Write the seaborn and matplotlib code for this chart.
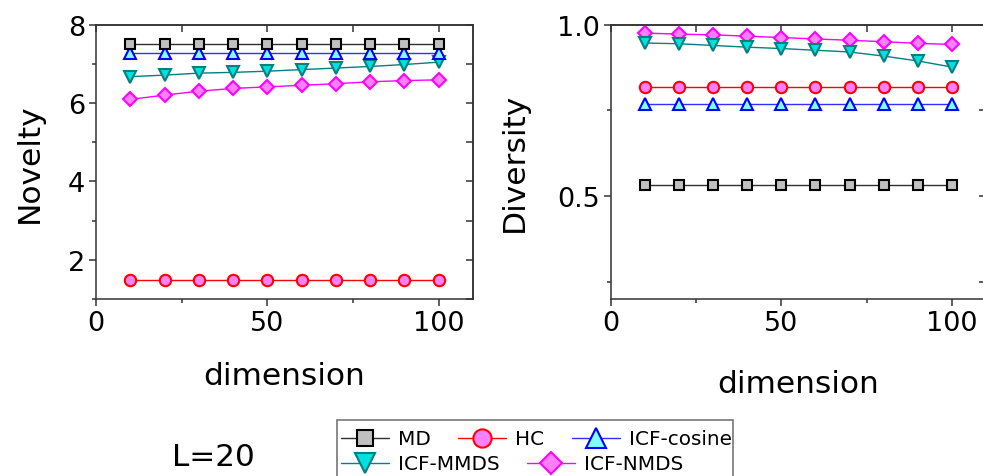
import numpy as np
import pandas as pd
import matplotlib
matplotlib.use("Agg")
import matplotlib.pyplot as plt
from matplotlib.patches import Rectangle
from matplotlib.ticker import MultipleLocator
import seaborn as sns

# data
dims = [10, 20, 30, 40, 50, 60, 70, 80, 90, 100]
methods = ['MD', 'HC', 'ICF-cosine', 'ICF-MMDS', 'ICF-NMDS']

novelty_md = [7.50] * 10
novelty_hc = [1.49] * 10
novelty_cos = [7.27] * 10
novelty_mmds = [6.67, 6.71, 6.76, 6.78, 6.81, 6.85, 6.89, 6.93, 6.98, 7.04]
novelty_nmds = [6.09, 6.20, 6.30, 6.37, 6.41, 6.45, 6.49, 6.54, 6.57, 6.59]

diversity_md = [0.533] * 10
diversity_hc = [0.818] * 10
diversity_cos = [0.767] * 10
diversity_mmds = [0.946, 0.944, 0.939, 0.934, 0.930, 0.925, 0.920, 0.908, 0.894, 0.876]
diversity_nmds = [0.975, 0.972, 0.970, 0.966, 0.962, 0.958, 0.954, 0.950, 0.945, 0.942]

novelty = {'MD': novelty_md, 'HC': novelty_hc, 'ICF-cosine': novelty_cos,
           'ICF-MMDS': novelty_mmds, 'ICF-NMDS': novelty_nmds}
diversity = {'MD': diversity_md, 'HC': diversity_hc, 'ICF-cosine': diversity_cos,
             'ICF-MMDS': diversity_mmds, 'ICF-NMDS': diversity_nmds}

rows = []
for m in methods:
    for d, nv, dv in zip(dims, novelty[m], diversity[m]):
        rows.append({'dimension': d, 'method': m, 'Novelty': nv, 'Diversity': dv})
df = pd.DataFrame(rows)

styles = {
    'MD':         dict(color='#303030', marker='s', ms=7.0, mfc='#c0c0c0', mec='#000000', z=6),
    'HC':         dict(color='#ff0000', marker='o', ms=8.2, mfc='#ff80ff', mec='#ff0000', z=5),
    'ICF-cosine': dict(color='#3030ff', marker='^', ms=9.0, mfc='#80ffff', mec='#0000ff', z=4),
    'ICF-MMDS':   dict(color='#008080', marker='v', ms=9.0, mfc='#00e0e0', mec='#008080', z=3),
    'ICF-NMDS':   dict(color='#ff00ff', marker='D', ms=6.8, mfc='#ff80ff', mec='#ff00ff', z=2),
}

sns.set_style("ticks")
plt.rcParams['font.family'] = ['DejaVu Sans']
plt.rcParams['axes.edgecolor'] = '#333333'
plt.rcParams['axes.linewidth'] = 1.1
plt.rcParams['text.color'] = 'black'
plt.rcParams['axes.labelcolor'] = 'black'

fig = plt.figure(figsize=(9.83, 4.77), dpi=100)
ax1 = fig.add_axes([0.0977, 0.371, 0.3833, 0.5755])
ax2 = fig.add_axes([0.6213, 0.371, 0.3817, 0.5755])


def draw(ax, col):
    for m in methods:
        s = styles[m]
        sns.lineplot(data=df[df['method'] == m], x='dimension', y=col, ax=ax,
                     color=s['color'], marker=s['marker'], markersize=s['ms'],
                     markerfacecolor=s['mfc'], markeredgecolor=s['mec'],
                     markeredgewidth=1.5, linewidth=1.0, label=m, legend=False,
                     zorder=s['z'], clip_on=False)
    ax.set_xlim(0, 110)
    ax.xaxis.set_major_locator(MultipleLocator(50))
    ax.xaxis.set_minor_locator(MultipleLocator(25))
    ax.tick_params(which='major', direction='out', length=5, width=1.1,
                   labelsize=19.5, colors='#333333', labelcolor='black', pad=3)
    ax.tick_params(which='minor', direction='out', length=3, width=1.1, colors='#333333')
    ax.set_xlabel('dimension', fontsize=22.5, color='black')
    sns.despine(ax=ax, top=False, right=False)
    # inward ticks on the top and right frame
    top = ax.secondary_xaxis('top')
    top.xaxis.set_major_locator(MultipleLocator(25))
    top.tick_params(direction='in', length=5, width=1.1, colors='#333333', labeltop=False)
    right = ax.secondary_yaxis('right')
    right.tick_params(direction='in', length=5, width=1.1, colors='#333333', labelright=False)
    return right


r1 = draw(ax1, 'Novelty')
ax1.set_ylim(1, 8)
ax1.yaxis.set_major_locator(MultipleLocator(2))
ax1.yaxis.set_minor_locator(MultipleLocator(1))
r1.yaxis.set_major_locator(MultipleLocator(1))
ax1.set_ylabel('Novelty', fontsize=22.5, labelpad=17, color='black')
ax1.xaxis.labelpad = 18

r2 = draw(ax2, 'Diversity')
ax2.set_ylim(0.2, 1.0)
ax2.yaxis.set_major_locator(MultipleLocator(0.5))
ax2.yaxis.set_minor_locator(MultipleLocator(0.25))
ax2.yaxis.set_major_formatter(matplotlib.ticker.FormatStrFormatter('%.1f'))
r2.yaxis.set_major_locator(MultipleLocator(0.25))
ax2.set_ylabel('Diversity', fontsize=22.5, labelpad=20, color='black')
ax2.xaxis.labelpad = 24

# legend: two rows laid out like the reference, inside one grey frame
handles, labels = ax1.get_legend_handles_labels()
hmap = dict(zip(labels, handles))
leg_kw = dict(frameon=False, fontsize=14.4, markerscale=1.6, handlelength=2.4,
              handletextpad=0.45, columnspacing=1.4, borderpad=0.0, borderaxespad=0.0,
              labelcolor='black')
leg1 = fig.legend([hmap[m] for m in ['MD', 'HC', 'ICF-cosine']],
                  ['MD', 'HC', 'ICF-cosine'], ncol=3, loc='center left',
                  bbox_to_anchor=(0.3465, 1 - 440 / 477), **leg_kw)
leg2 = fig.legend([hmap[m] for m in ['ICF-MMDS', 'ICF-NMDS']],
                  ['ICF-MMDS', 'ICF-NMDS'], ncol=2, loc='center left',
                  bbox_to_anchor=(0.3465, 1 - 465 / 477), **leg_kw)
fig.add_artist(Rectangle((337 / 983, -0.05), (733 - 337) / 983, 0.05 + 1 - 421 / 477,
                         transform=fig.transFigure, fill=False, edgecolor='#777777',
                         linewidth=1.2))

fig.text(172 / 983, 1 - 458 / 477, 'L=20', fontsize=22.4, va='center', ha='left',
         color='black')

fig.savefig('out.png', dpi=100)
